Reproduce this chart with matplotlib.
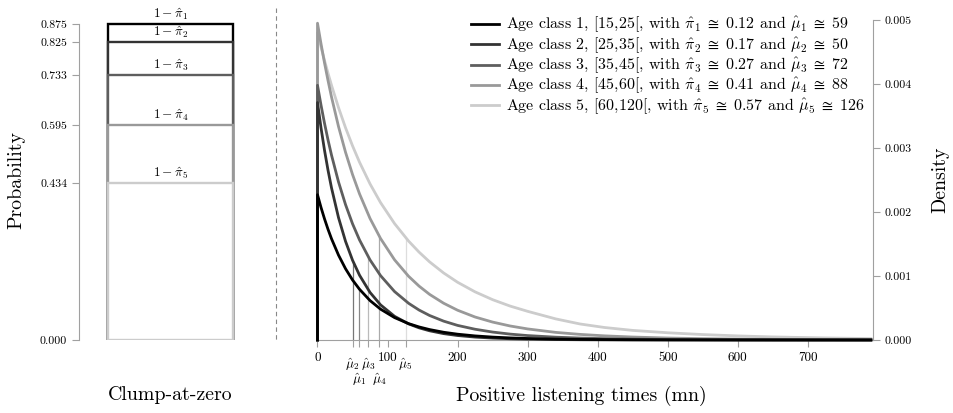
import numpy as np
import matplotlib.pyplot as plt
from matplotlib.lines import Line2D

plt.rcParams['font.family'] = 'serif'
plt.rcParams['font.serif'] = ['cmr10', 'DejaVu Serif']
plt.rcParams['mathtext.fontset'] = 'cm'
plt.rcParams['axes.unicode_minus'] = False
plt.rcParams['axes.formatter.use_mathtext'] = True

#==================================================================
# data
classes = ['[15,25[', '[25,35[', '[35,45[', '[45,60[', '[60,120[']
pi_hat = ['0.12', '0.17', '0.27', '0.41', '0.57']
mu_txt = ['59', '50', '72', '88', '126']
clump = [0.875, 0.825, 0.733, 0.595, 0.434]      # 1 - pi_hat
mu = [59, 50, 72, 88, 126]
mu_top = [0.00081, 0.00122, 0.00130, 0.00161, 0.00160]

t = [0, 5, 10, 15, 20, 30, 40, 50, 60, 75, 90, 110, 130, 145, 160, 180, 200,
     225, 250, 275, 300, 340, 375, 410, 450, 500, 550, 600, 650, 720, 790]
dens1 = [0.002270, 0.002072, 0.001893, 0.001730, 0.001582, 0.001326, 0.001114,
         0.000938, 0.000792, 0.000616, 0.000482, 0.000350, 0.000256, 0.000204,
         0.000163, 0.000121, 0.0000908, 0.0000639, 0.0000454, 0.0000326,
         0.0000235, 0.0000142, 0.0000093, 0.0000062, 0.0000039, 0.0000023,
         0.0000014, 0.0000008, 0.0000005, 0.0000003, 0.0000001]
dens2 = [0.003710, 0.003316, 0.002965, 0.002654, 0.002377, 0.001912, 0.001542,
         0.001247, 0.001012, 0.000743, 0.000549, 0.000370, 0.000252, 0.000190,
         0.000144, 0.0000998, 0.0000700, 0.0000454, 0.0000298, 0.0000197,
         0.0000133, 0.0000071, 0.0000042, 0.0000025, 0.0000015, 0.0000007,
         0.0000004, 0.0000002, 0.0000001, 0.0000001, 0.0]
dens3 = [0.003980, 0.003671, 0.003387, 0.003127, 0.002889, 0.002470, 0.002116,
         0.001816, 0.001563, 0.001251, 0.001006, 0.000757, 0.000574, 0.000468,
         0.000383, 0.000295, 0.000228, 0.000168, 0.000124, 0.0000919,
         0.0000690, 0.0000442, 0.0000303, 0.0000210, 0.0000141, 0.0000087,
         0.0000055, 0.0000035, 0.0000023, 0.0000013, 0.0000007]
dens4 = [0.004950, 0.004629, 0.004331, 0.004055, 0.003797, 0.003335, 0.002934,
         0.002586, 0.002283, 0.001899, 0.001586, 0.001253, 0.000996, 0.000842,
         0.000713, 0.000575, 0.000465, 0.000359, 0.000280, 0.000219,
         0.000173, 0.000119, 0.0000875, 0.0000646, 0.0000463, 0.0000310,
         0.0000211, 0.0000146, 0.0000102, 0.0000064, 0.0000040]
dens5 = [0.004800, 0.004578, 0.004368, 0.004169, 0.003980, 0.003631, 0.003317,
         0.003034, 0.002778, 0.002439, 0.002147, 0.001819, 0.001546, 0.001373,
         0.001221, 0.001048, 0.000902, 0.000752, 0.000630, 0.000530,
         0.000448, 0.000330, 0.000250, 0.000195, 0.000150, 0.000113,
         0.0000850, 0.0000640, 0.0000480, 0.0000330, 0.0000220]
#==================================================================

dens = [dens1, dens2, dens3, dens4, dens5]
cols = ['#000000', '#333333', '#5e5e5e', '#999999', '#cccccc']
mu_cols = ['#888888', '#777777', '#bbbbbb', '#aaaaaa', '#dddddd']
spine_col = '#a0a0a0'

W, H = 954, 413
fig = plt.figure(figsize=(W / 100, H / 100), dpi=100)

def fx(px):
    return px / W

def fy(py):
    return 1 - py / H

#==================================================================
# left panel : clump-at-zero
ax1 = fig.add_axes([fx(79), fy(340), (262 - 79) / W, 320 / H])
ax1.set_xlim(0, 1)
ax1.set_ylim(0, 0.886)
for k in range(5):
    ax1.bar(0.5, clump[k], width=0.683, facecolor='white', edgecolor=cols[k],
            lw=1.7, zorder=2 + k)
    ax1.annotate(r'$1-\hat{\pi}_%d$' % (k + 1), (0.5, clump[k]), xytext=(0, 1.5),
                 textcoords='offset points', ha='center', va='bottom', fontsize=9.5,
                 zorder=10)
for s in ['top', 'right', 'bottom']:
    ax1.spines[s].set_visible(False)
ax1.spines['left'].set_color(spine_col)
ax1.spines['left'].set_bounds(0, 0.875)
ax1.set_xticks([])
ax1.set_yticks([0] + clump, ['%.3f' % v for v in [0] + clump])
ax1.tick_params(axis='y', colors=spine_col, labelcolor='black', labelsize=8.5,
                length=5, width=0.8)

#==================================================================
# right panel : densities
ax2 = fig.add_axes([fx(317.5), fy(340), (873 - 317.5) / W, 320 / H])
ax2.set_xlim(0, 793)
ax2.set_ylim(0, 0.005)
for k in reversed(range(5)):
    ax2.plot(np.r_[0, t], np.r_[0, dens[k]], color=cols[k], lw=2,
             clip_on=False, solid_joinstyle='round', zorder=3 + (5 - k))
ax2.vlines(mu, 0, mu_top, colors=mu_cols, lw=0.9, zorder=2)

for s in ['top', 'left']:
    ax2.spines[s].set_visible(False)
for s in ['bottom', 'right']:
    ax2.spines[s].set_color(spine_col)
ax2.spines['bottom'].set_bounds(0, 793)
ax2.yaxis.tick_right()
ax2.set_yticks(np.arange(0, 0.0051, 0.001), ['%.3f' % v for v in np.arange(0, 0.0051, 0.001)])
ax2.set_xticks(np.arange(0, 701, 100), [str(v) for v in range(0, 701, 100)])
ax2.set_xticks(mu, minor=True)
ax2.tick_params(which='both', colors=spine_col, labelcolor='black', labelsize=9.5,
                length=5, width=0.8)
ax2.tick_params(axis='y', labelsize=8.5)

# mu labels in two rows under the axis
rows = [-0.125, -0.078, -0.078, -0.125, -0.078]
for k in range(5):
    ax2.text(mu[k], rows[k], r'$\hat{\mu}_%d$' % (k + 1), transform=ax2.get_xaxis_transform(),
             ha='center', va='center', fontsize=9.5)

handles = [Line2D([], [], color=cols[k], lw=2) for k in range(5)]
labels = [r'Age class %d, %s, with $\hat{\pi}_%d\;\cong\;%s$ and $\hat{\mu}_%d\;\cong\;%s$'
          % (k + 1, classes[k], k + 1, pi_hat[k], k + 1, mu_txt[k]) for k in range(5)]
ax2.legend(handles, labels, loc='upper right', bbox_to_anchor=(1.005, 1.05), frameon=False,
           fontsize=11.5, handlelength=1.8, labelspacing=0.02, handletextpad=0.4,
           borderaxespad=0.3)

#==================================================================
# axis titles and separator
fig.text(fx(170), fy(395), 'Clump-at-zero', ha='center', va='center', fontsize=14.3)
fig.text(fx(581), fy(396), 'Positive listening times (mn)', ha='center', va='center',
         fontsize=14.3)
fig.text(fx(16), fy(180), 'Probability', ha='center', va='center', rotation=90, fontsize=14.3)
fig.text(fx(940), fy(180), 'Density', ha='center', va='center', rotation=90, fontsize=14.3)
fig.add_artist(Line2D([fx(276), fx(276)], [fy(8), fy(340)], transform=fig.transFigure,
                      color='#888888', lw=0.8, ls=(0, (4, 3))))

fig.savefig('out.png', dpi=100)
